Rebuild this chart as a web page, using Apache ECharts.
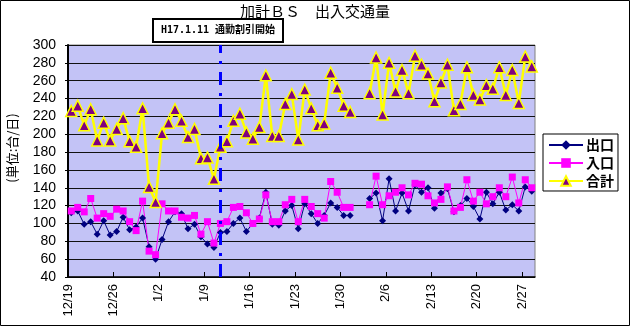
<!DOCTYPE html>
<html>
<head>
<meta charset="utf-8">
<style>
  html, body { margin: 0; padding: 0; background: #fff; }
  #chart { width: 630px; height: 326px; }
</style>
<script src="https://cdn.jsdelivr.net/npm/echarts@6/dist/echarts.min.js"></script>
</head>
<body>
<div id="chart"></div>
<script>
// Daily traffic counts at 加計BS, one value per day starting 12/19 (72 days, through 2/28).
// '-' marks days without counts.
const exitCounts = [
  112, 114, 99, 102, 88, 103, 87, 91, 107, 93, 96, 106, 74, 60,
  82, 102, 113, 111, 94, 99, 85, 77, 73, 90, 91, 100, 106, 91,
  100, 106, 135, 99, 98, 114, 120, 94, 122, 111, 100, 109, 123, 118,
  109, 109, '-', '-', 128, 134, 103, 150, 114, 134, 114, 143, 135, 140,
  117, 134, 139, 113, 120, 128, 119, 105, 135, 122, 135, 115, 121, 114,
  141, 136
];
const entryCounts = [
  114, 118, 113, 128, 106, 111, 108, 116, 114, 102, 92, 125, 69, 65,
  122, 114, 114, 107, 106, 109, 88, 102, 78, 100, 102, 118, 119, 112,
  100, 105, 132, 102, 102, 121, 127, 102, 127, 119, 111, 106, 147, 135,
  118, 118, '-', '-', 121, 153, 121, 131, 135, 140, 132, 145, 144, 131,
  123, 127, 141, 114, 118, 149, 125, 135, 122, 130, 140, 130, 152, 123,
  149, 140
];
const totalCounts = [
  226, 232, 210, 228, 193, 213, 193, 206, 218, 192, 186, 229, 141, 124,
  201, 213, 228, 215, 197, 206, 173, 174, 150, 186, 192, 215, 223, 202,
  195, 208, 266, 198, 198, 234, 245, 194, 250, 229, 210, 212, 269, 252,
  232, 225, '-', '-', 246, 286, 222, 280, 248, 272, 246, 288, 278, 268,
  237, 258, 278, 227, 234, 275, 244, 239, 255, 251, 275, 244, 272, 235,
  287, 276
];
// Weekly date ticks (every 7 days from 12/19)
const tickLabels = ['12/19', '12/26', '1/2', '1/9', '1/16', '1/23', '1/30', '2/6', '2/13', '2/20', '2/27'];
const seriesNames = ['出口', '入口', '合計'];
// Day index of the commuter discount start (H17.1.11)
const discountDay = 23;
const discountText = 'H17.1.11 通勤割引開始';
const titleText = '加計ＢＳ　出入交通量';
const unitText = '(単位:台/日)';

const dayCount = totalCounts.length;
const tickValues = tickLabels.map((_, k) => k * 7);
// each day occupies one unit; the mark sits in the middle of its day
const toPoints = arr => arr.map((v, i) => [i + 0.5, v]);

const jp = "'Noto Sans CJK JP', sans-serif";
const latin = "'Liberation Sans', Arial, sans-serif";

const chart = echarts.init(document.getElementById('chart'), null, { renderer: 'canvas' });
chart.setOption({
  animation: false,
  backgroundColor: '#ffffff',
  grid: {
    left: 68, top: 45, right: 95, bottom: 49,
    show: true,
    backgroundColor: '#c3c3f6',
    borderColor: '#808080',
    borderWidth: 1
  },
  xAxis: {
    type: 'value',
    min: 0,
    max: dayCount,
    interval: 7,
    axisLine: { show: true, lineStyle: { color: '#000', width: 1.5 } },
    axisTick: { show: true, inside: true, length: 5, lineStyle: { color: '#000' }, customValues: tickValues },
    splitLine: { show: false },
    axisLabel: {
      customValues: tickValues,
      rotate: 90,
      margin: 7,
      fontSize: 13,
      fontFamily: latin,
      color: '#000',
      formatter: v => tickLabels[Math.round(v / 7)] || ''
    }
  },
  yAxis: {
    type: 'value',
    min: 40,
    max: 300,
    interval: 20,
    axisLine: { show: true, lineStyle: { color: '#000', width: 2 } },
    axisTick: { show: true, length: 3, lineStyle: { color: '#000' } },
    splitLine: { show: true, lineStyle: { color: '#111', width: 1 } },
    axisLabel: { fontSize: 14, fontFamily: latin, color: '#000', margin: 12 }
  },
  legend: {
    orient: 'vertical',
    left: 543,
    top: 134,
    width: 78,
    padding: [4, 4, 3, 5],
    itemGap: 4,
    itemWidth: 34,
    itemHeight: 12,
    borderColor: '#000',
    borderWidth: 1,
    backgroundColor: '#fff',
    textStyle: { fontSize: 14, fontFamily: jp, color: '#000', fontWeight: 'bold', padding: [0, 0, 0, -2] },
    data: seriesNames
  },
  series: [
    {
      name: seriesNames[0],
      type: 'line',
      data: toPoints(exitCounts),
      symbol: 'diamond',
      symbolSize: 7,
      itemStyle: { color: '#000080' },
      lineStyle: { color: '#000080', width: 1 },
      markLine: {
        silent: true,
        symbol: 'none',
        label: { show: false },
        lineStyle: { color: '#0000ff', width: 3, type: [13, 8, 3, 8] },
        data: [{ xAxis: discountDay + 0.5 }]
      }
    },
    {
      name: seriesNames[1],
      type: 'line',
      data: toPoints(entryCounts),
      symbol: 'rect',
      symbolSize: 7,
      itemStyle: { color: '#ff00ff' },
      lineStyle: { color: '#ff00ff', width: 1 }
    },
    {
      name: seriesNames[2],
      type: 'line',
      data: toPoints(totalCounts),
      symbol: 'triangle',
      symbolSize: 11,
      itemStyle: { color: '#800080', borderColor: '#ffff00', borderWidth: 1.5 },
      lineStyle: { color: '#ffff00', width: 2.5 }
    }
  ],
  graphic: [
    {
      type: 'rect',
      silent: true,
      shape: { x: 0.5, y: 0.5, width: 629, height: 325 },
      style: { fill: 'none', stroke: '#000', lineWidth: 1 }
    },
    {
      type: 'text',
      silent: true,
      left: 'center',
      top: 4,
      style: { text: titleText, fontSize: 15, fontFamily: jp, fill: '#000' }
    },
    {
      type: 'text',
      silent: true,
      x: 12,
      y: 148,
      rotation: Math.PI / 2,
      style: { text: unitText, fontSize: 13, fontFamily: jp, fill: '#000', align: 'center', verticalAlign: 'middle' }
    },
    {
      type: 'rect',
      silent: true,
      shape: { x: 153, y: 19, width: 130, height: 23 },
      style: { fill: '#fff', stroke: '#000', lineWidth: 2 },
      z: 10
    },
    {
      type: 'text',
      silent: true,
      x: 218,
      y: 30.5,
      z: 11,
      style: {
        text: discountText, fontSize: 10, fontWeight: 'bold',
        fontFamily: "'DejaVu Sans Mono', 'Noto Sans CJK JP', monospace",
        fill: '#000', align: 'center', verticalAlign: 'middle'
      }
    }
  ]
});
</script>
</body>
</html>
